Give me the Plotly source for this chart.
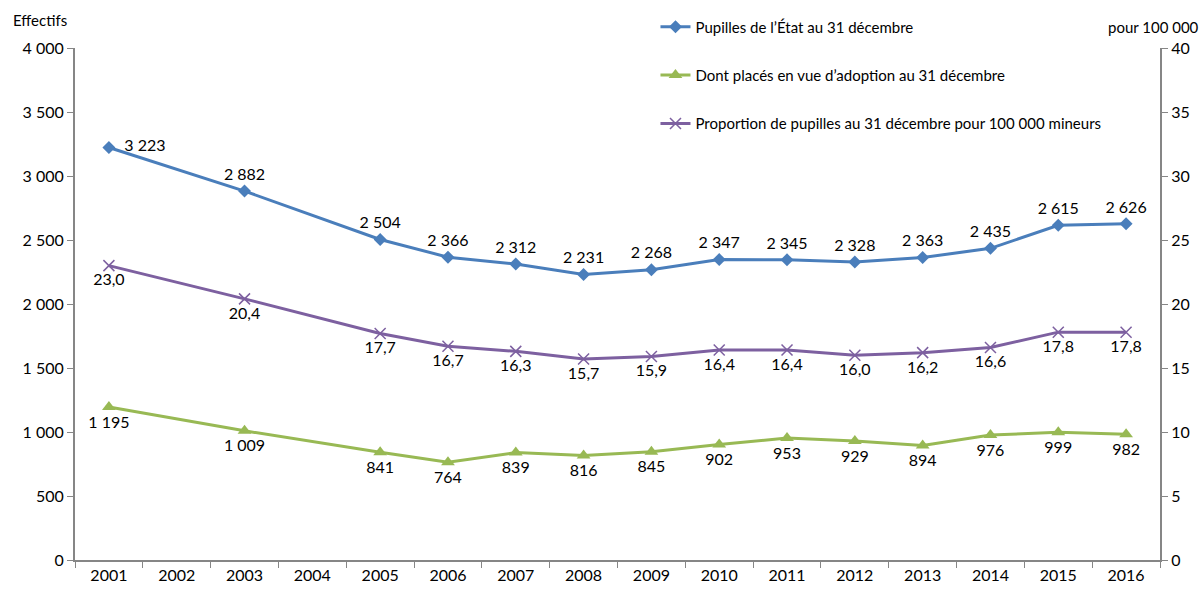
import plotly.graph_objects as go

years = [str(y) for y in range(2001, 2017)]

pupilles = [3223, None, 2882, None, 2504, 2366, 2312, 2231, 2268, 2347, 2345, 2328, 2363, 2435, 2615, 2626]
adoption = [1195, None, 1009, None, 841, 764, 839, 816, 845, 902, 953, 929, 894, 976, 999, 982]
proportion = [23.0, None, 20.4, None, 17.7, 16.7, 16.3, 15.7, 15.9, 16.4, 16.4, 16.0, 16.2, 16.6, 17.8, 17.8]

NAMES = [
    "Pupilles de l\u2019\u00c9tat au 31 d\u00e9cembre",
    "Dont plac\u00e9s en vue d\u2019adoption au 31 d\u00e9cembre",
    "Proportion de pupilles au 31 d\u00e9cembre pour 100 000 mineurs",
]

BLUE = "#4A7EBB"
GREEN = "#98B954"
PURPLE = "#7D60A0"
AXIS = "#868686"
FONT = "Lato, 'Open Sans', sans-serif"


def fmt_int(v):
    return "" if v is None else f"{v:,}".replace(",", " ")


def fmt_dec(v):
    return "" if v is None else f"{v:.1f}".replace(".", ",")


fig = go.Figure()

blue_text = [fmt_int(v) for v in pupilles]
blue_text[0] = "\u00a0\u00a0" + blue_text[0]  # first label sits to the right of its marker
blue_pos = ["middle right"] + ["top center"] * (len(years) - 1)
fig.add_trace(go.Scatter(
    x=years, y=pupilles, name=NAMES[0], mode="lines+markers+text",
    connectgaps=True,
    text=blue_text, textposition=blue_pos,
    textfont=dict(size=16, color="black"),
    line=dict(color=BLUE, width=3),
    marker=dict(symbol="diamond", size=10, color=BLUE),
    legend="legend",
))
fig.add_trace(go.Scatter(
    x=years, y=adoption, name=NAMES[1], mode="lines+markers+text",
    connectgaps=True,
    text=[fmt_int(v) for v in adoption], textposition="bottom center",
    textfont=dict(size=16, color="black"),
    line=dict(color=GREEN, width=3),
    marker=dict(symbol="triangle-up", size=12, color=GREEN),
    legend="legend2",
))
fig.add_trace(go.Scatter(
    x=years, y=proportion, name=NAMES[2], mode="lines+markers+text",
    connectgaps=True, yaxis="y2",
    text=[fmt_dec(v) for v in proportion], textposition="bottom center",
    textfont=dict(size=16, color="black"),
    line=dict(color=PURPLE, width=3),
    marker=dict(symbol="x-thin-open", size=11, line=dict(color=PURPLE, width=1.5)),
    legend="legend3",
))

leg = dict(x=0.535, xanchor="left", yanchor="middle", bgcolor="rgba(0,0,0,0)",
           font=dict(size=15, color="black", family=FONT))

fig.update_layout(
    width=1203, height=589,
    margin=dict(l=75, r=43, t=48, b=29, autoexpand=False),
    paper_bgcolor="white", plot_bgcolor="white",
    font=dict(family=FONT, size=16, color="black"),
    showlegend=True,
    legend=dict(leg, y=1.041),
    legend2=dict(leg, y=0.947),
    legend3=dict(leg, y=0.852),
    xaxis=dict(
        type="category", showgrid=False, showline=True, linecolor=AXIS, linewidth=2,
        ticks="outside", tickson="boundaries", ticklen=6, tickcolor=AXIS,
        tickfont=dict(size=16), range=[-0.5, 15.5],
    ),
    yaxis=dict(
        range=[0, 4000], dtick=500, showgrid=False, zeroline=False,
        showline=True, linecolor=AXIS, linewidth=2,
        ticks="outside", ticklen=6, tickcolor=AXIS,
        tickformat=",d", tickfont=dict(size=16),
    ),
    yaxis2=dict(
        range=[0, 40], dtick=5, overlaying="y", side="right", showgrid=False,
        zeroline=False, showline=True, linecolor=AXIS, linewidth=2,
        ticks="outside", ticklen=6, tickcolor=AXIS, tickfont=dict(size=16),
    ),
    separators=", ",
    annotations=[
        dict(text="Effectifs", xref="paper", yref="paper", x=-0.032, y=1.055,
             xanchor="center", yanchor="middle", showarrow=False, font=dict(size=15)),
        dict(text="pour 100 000", xref="paper", yref="paper", x=1.038, y=1.041,
             xanchor="right", yanchor="middle", showarrow=False, font=dict(size=15)),
    ],
)

# page has an 8px body margin by default; drop it so the figure fills the window
fig.write_html("out.html", config={"displayModeBar": False},
               post_script="document.body.style.margin = '0';")
